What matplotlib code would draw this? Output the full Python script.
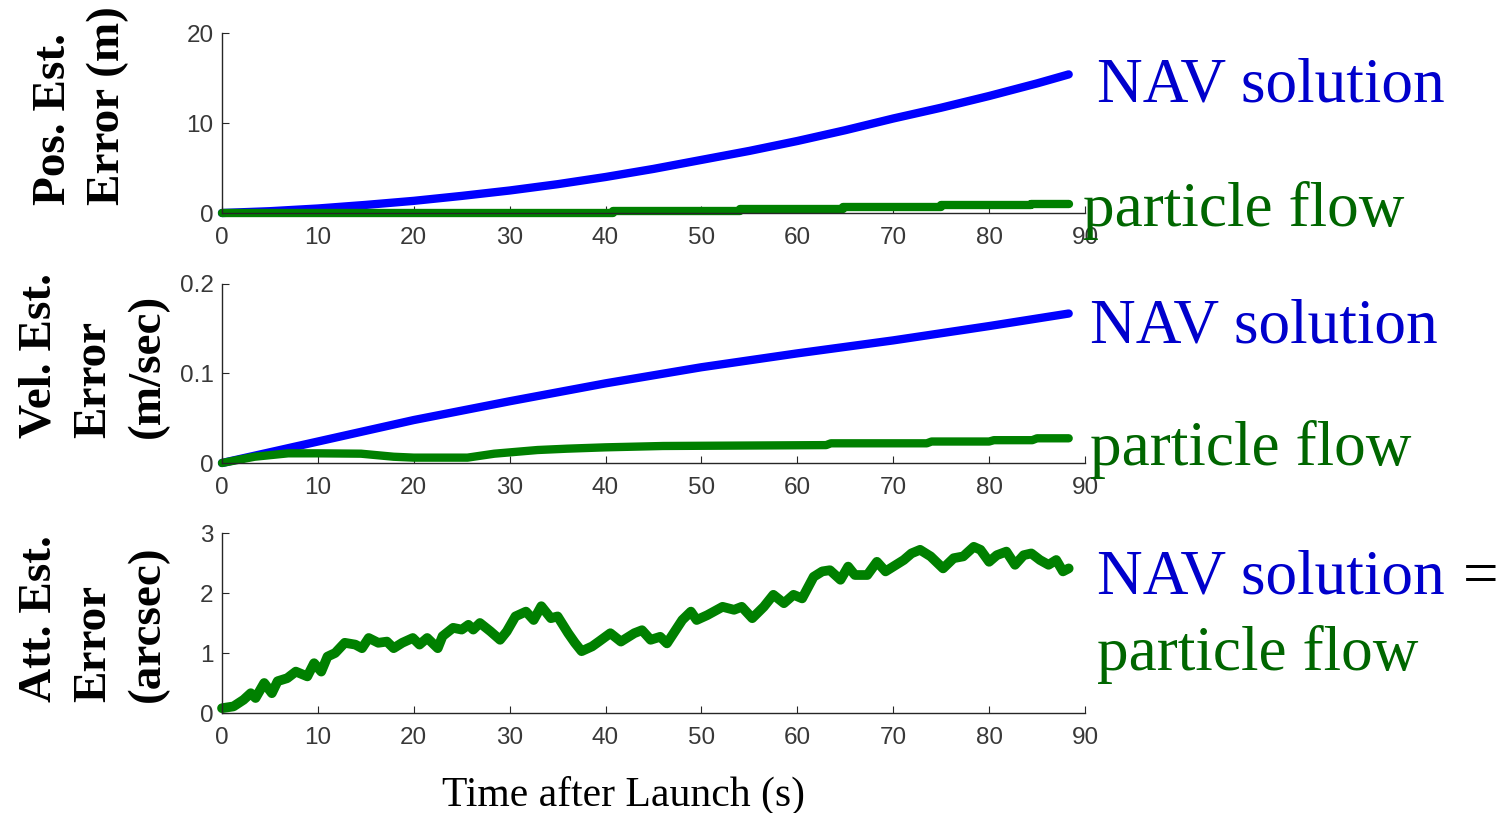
import matplotlib.pyplot as plt

# ---- data ----
POS_T = [0, 5, 10, 15, 20, 25, 30, 35, 40, 45, 50, 55, 60, 65, 70, 75, 80, 85, 88.3]
NAV_POS = [0, 0.2, 0.5, 0.9, 1.35, 1.9, 2.5, 3.2, 4.0, 4.9, 5.9, 6.9, 8.0, 9.2,
           10.5, 11.7, 13.0, 14.4, 15.4]
PF_POS_T = [0, 40.8, 54, 64.8, 75, 84.4, 88.3]
PF_POS = [0.03, 0.25, 0.45, 0.68, 0.88, 1.05, 1.05]

VEL_T = [0, 10, 20, 30, 40, 50, 60, 70, 80, 88.3]
NAV_VEL = [0, 0.024, 0.048, 0.069, 0.089, 0.107, 0.1225, 0.137, 0.153, 0.167]
PF_VEL_T = [0, 3.4, 6.9, 10, 14.5, 17.9, 20, 25.6, 28.4, 32.9, 36, 40, 46, 63,
            63.5, 73.5, 74, 80, 80.5, 84.5, 85, 88.3]
PF_VEL = [0, 0.007, 0.0108, 0.0108, 0.0104, 0.007, 0.006, 0.006, 0.0104, 0.0145,
          0.016, 0.0175, 0.019, 0.020, 0.022, 0.022, 0.024, 0.024, 0.0255, 0.0255,
          0.0276, 0.0276]

ATT_T = [0, 1.2, 2.25, 3, 3.5, 4.4, 5.2, 5.8, 6.8, 7.7, 8.9, 9.6, 10.35, 11, 11.8,
         12.8, 13.9, 14.6, 15.3, 16.3, 17.2, 17.9, 18.8, 19.9, 20.6, 21.4, 22.5,
         23.0, 24.1, 25, 25.7, 26.2, 26.9, 28, 29, 29.7, 30.6, 31.7, 32.5, 33.3,
         34.3, 35.0, 36.1, 36.8, 37.5, 38.6, 39.3, 40.5, 41.6, 43, 43.8, 44.7,
         45.7, 46.4, 48, 48.9, 49.5, 50.6, 52.2, 53.4, 54.2, 55.3, 56.5, 57.5,
         58.6, 59.6, 60.5, 61.7, 62.6, 63.4, 64.5, 65.3, 66.0, 67.3, 68.3, 69.2,
         70, 71.1, 71.9, 72.8, 73.9, 75.2, 76.3, 77.3, 78.4, 79.1, 80, 80.8,
         81.8, 82.7, 83.6, 84.4, 85.3, 86.2, 87.0, 87.7, 88.3]
ATT_ERR = [0.08, 0.11, 0.22, 0.33, 0.25, 0.5, 0.33, 0.53, 0.58, 0.69, 0.61, 0.83,
           0.69, 0.94, 1.0, 1.17, 1.14, 1.08, 1.25, 1.17, 1.19, 1.08, 1.17, 1.25,
           1.14, 1.25, 1.08, 1.28, 1.42, 1.39, 1.47, 1.39, 1.5, 1.36, 1.22, 1.36,
           1.61, 1.69, 1.55, 1.78, 1.58, 1.61, 1.33, 1.17, 1.03, 1.11, 1.19, 1.33,
           1.19, 1.33, 1.38, 1.22, 1.27, 1.16, 1.55, 1.69, 1.55, 1.63, 1.77, 1.72,
           1.77, 1.58, 1.77, 1.97, 1.83, 1.97, 1.91, 2.27, 2.36, 2.38, 2.22, 2.44,
           2.3, 2.3, 2.52, 2.36, 2.44, 2.55, 2.66, 2.72, 2.61, 2.41, 2.58, 2.61,
           2.77, 2.72, 2.52, 2.63, 2.69, 2.47, 2.63, 2.66, 2.55, 2.47, 2.55, 2.36,
           2.41]

X_TICKS = list(range(0, 100, 10))
POS_TICKS = [0, 10, 20]
VEL_TICKS = [0, 0.1, 0.2]
ATT_TICKS = [0, 1, 2, 3]

BLUE_LINE = "#0000ff"
GREEN_LINE = "#008000"
BLUE_TEXT = "#0000cc"
GREEN_TEXT = "#006600"
SERIF = "Liberation Serif"
SANS = "Liberation Sans"

W, H = 1510, 813
fig = plt.figure(figsize=(W / 100, H / 100), dpi=100)


def px_rect(left, top, right, bottom):
    return [left / W, 1 - bottom / H, (right - left) / W, (bottom - top) / H]


def style(ax, yticks, ylim):
    ax.set_xlim(0, 90)
    ax.set_ylim(*ylim)
    ax.set_xticks(X_TICKS)
    ax.set_yticks(yticks)
    ax.set_yticklabels([f"{v:g}" for v in yticks])
    for s in ("top", "right"):
        ax.spines[s].set_visible(False)
    for s in ("left", "bottom"):
        ax.spines[s].set_linewidth(1.0)
        ax.spines[s].set_color("#262626")
    ax.tick_params(direction="in", length=5, width=0.8, color="#262626",
                   labelsize=17.5, labelcolor="#383838")
    ax.tick_params(axis="x", pad=10)
    ax.tick_params(axis="y", pad=6)
    for lab in ax.get_xticklabels() + ax.get_yticklabels():
        lab.set_family(SANS)
    ax.patch.set_alpha(0)


ax1 = fig.add_axes(px_rect(222, 33, 1085, 213))
ax1.plot(POS_T, NAV_POS, color=BLUE_LINE, lw=6, clip_on=False, solid_capstyle="round")
ax1.plot(PF_POS_T, PF_POS, color=GREEN_LINE, lw=6, clip_on=False,
         drawstyle="steps-post", solid_capstyle="round")
style(ax1, POS_TICKS, (0, 20))

ax2 = fig.add_axes(px_rect(222, 284, 1085, 463))
ax2.plot(VEL_T, NAV_VEL, color=BLUE_LINE, lw=6, clip_on=False, solid_capstyle="round")
ax2.plot(PF_VEL_T, PF_VEL, color=GREEN_LINE, lw=6, clip_on=False, solid_capstyle="round")
style(ax2, VEL_TICKS, (0, 0.2))

ax3 = fig.add_axes(px_rect(222, 533, 1085, 713))
ax3.plot(ATT_T, ATT_ERR, color=GREEN_LINE, lw=7, clip_on=False,
         solid_joinstyle="round", solid_capstyle="round")
style(ax3, ATT_TICKS, (0, 3))

# y labels (bold serif, lines aligned at the bottom)
ylabels = [("Pos. Est.\nError (m)", 81, 205),
           ("Vel. Est.\nError\n(m/sec)", 94, 438),
           ("Att. Est.\nError\n(arcsec)", 94, 702)]
for txt, xc, yb in ylabels:
    fig.text(xc / W, 1 - yb / H, txt, rotation=90, ha="center", va="bottom",
             multialignment="left", family=SERIF, fontweight="bold", fontsize=34,
             linespacing=1.37)

fig.text(624 / W, 1 - 806 / H, "Time after Launch (s)", ha="center", va="baseline",
         family=SERIF, fontsize=30)

# right-hand annotations
fs = 45.5
fig.text(1097 / W, 1 - 101 / H, "NAV solution", color=BLUE_TEXT, family=SERIF,
         fontsize=fs, va="baseline")
fig.text(1083 / W, 1 - 226 / H, "particle flow", color=GREEN_TEXT, family=SERIF,
         fontsize=fs, va="baseline")
fig.text(1090 / W, 1 - 342 / H, "NAV solution", color=BLUE_TEXT, family=SERIF,
         fontsize=fs, va="baseline")
fig.text(1090 / W, 1 - 465 / H, "particle flow", color=GREEN_TEXT, family=SERIF,
         fontsize=fs, va="baseline")
nav3 = fig.text(1097 / W, 1 - 594 / H, "NAV solution", color=BLUE_TEXT, family=SERIF,
                fontsize=fs, va="baseline")
fig.canvas.draw()
x_end = nav3.get_window_extent(fig.canvas.get_renderer()).x1
fig.text((x_end + 18) / W, 1 - 594 / H, "=", color="black", family=SERIF,
         fontsize=fs, va="baseline")
fig.text(1097 / W, 1 - 670 / H, "particle flow", color=GREEN_TEXT, family=SERIF,
         fontsize=fs, va="baseline")

fig.savefig("out.png", dpi=100)
